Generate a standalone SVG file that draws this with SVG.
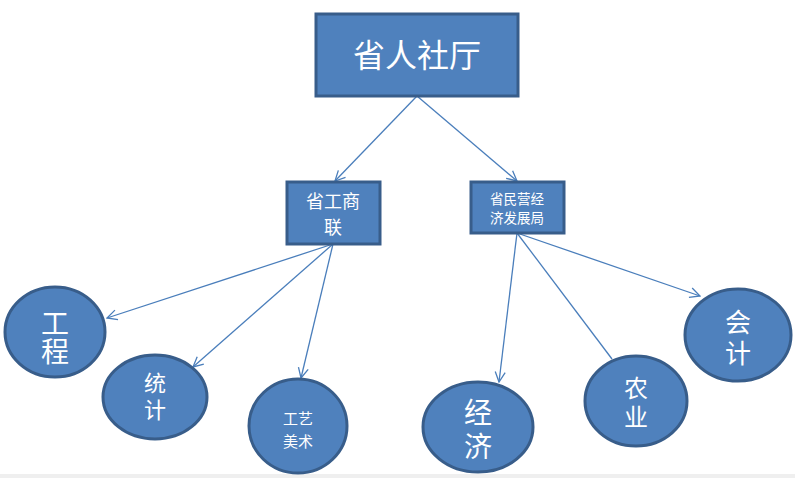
<svg xmlns="http://www.w3.org/2000/svg" width="795" height="478" viewBox="0 0 795 478">
<defs>
<style>
.box{fill:#4F81BD;stroke:#385D8A;stroke-width:3}
.ell{fill:#4F81BD;stroke:#385D8A;stroke-width:3}
.t{fill:#ffffff;font-family:"Noto Sans CJK SC","Noto Sans CJK TC",sans-serif;text-anchor:middle;dominant-baseline:central}
.v{writing-mode:vertical-rl;dominant-baseline:central}
.c{fill:none;stroke:#4A7EBB;stroke-width:1.3}
</style>
<marker id="arr" viewBox="0 0 12 12" refX="11" refY="6" markerWidth="12" markerHeight="12" markerUnits="userSpaceOnUse" orient="auto">
<path d="M1,1 L11,6 L1,11" fill="none" stroke="#4A7EBB" stroke-width="1.3"/>
</marker>
</defs>
<rect x="0" y="0" width="795" height="478" fill="#ffffff"/>
<rect x="0" y="474" width="795" height="4" fill="#efefef"/>
<g id="connectors">
<line class="c" x1="417" y1="96" x2="335" y2="181" marker-end="url(#arr)"/>
<line class="c" x1="417" y1="96" x2="517" y2="181" marker-end="url(#arr)"/>
<line class="c" x1="333" y1="244" x2="107" y2="318" marker-end="url(#arr)"/>
<line class="c" x1="333" y1="244" x2="193" y2="367" marker-end="url(#arr)"/>
<line class="c" x1="333" y1="244" x2="301" y2="378" marker-end="url(#arr)"/>
<line class="c" x1="517" y1="233" x2="499" y2="382" marker-end="url(#arr)"/>
<line class="c" x1="517" y1="233" x2="612" y2="359"/>
<line class="c" x1="517" y1="233" x2="700" y2="296" marker-end="url(#arr)"/>
</g>
<g id="n-top">
<rect class="box" x="316" y="14" width="202" height="82"/>
<text class="t" x="417" y="53" font-size="32">省人社厅</text>
</g>
<g id="n-gsl">
<rect class="box" x="287" y="182" width="93" height="62"/>
<text class="t" x="333" y="200" font-size="18">省工商</text>
<text class="t" x="333" y="226" font-size="18">联</text>
</g>
<g id="n-myj">
<rect class="box" x="471" y="182" width="93" height="51"/>
<text class="t" x="517" y="198" font-size="13.5">省民营经</text>
<text class="t" x="517" y="217" font-size="13.5">济发展局</text>
</g>
<g id="n-gc">
<ellipse class="ell" cx="55" cy="332" rx="50" ry="45"/>
<text class="t v" x="55" y="337" font-size="28">工程</text>
</g>
<g id="n-tj">
<ellipse class="ell" cx="155" cy="397" rx="52" ry="42"/>
<text class="t v" x="155" y="399" font-size="22" letter-spacing="5">统计</text>
</g>
<g id="n-gy">
<ellipse class="ell" cx="298" cy="426" rx="49" ry="47"/>
<text class="t" x="298" y="417" font-size="15">工艺</text>
<text class="t" x="298" y="440" font-size="15">美术</text>
</g>
<g id="n-jj">
<ellipse class="ell" cx="478" cy="427" rx="55" ry="45"/>
<text class="t v" x="478" y="432" font-size="28" letter-spacing="6">经济</text>
</g>
<g id="n-ny">
<ellipse class="ell" cx="636" cy="401" rx="51" ry="45"/>
<text class="t v" x="636" y="405" font-size="24" letter-spacing="5">农业</text>
</g>
<g id="n-kj">
<ellipse class="ell" cx="738" cy="335" rx="53" ry="46"/>
<text class="t v" x="738" y="340" font-size="26" letter-spacing="5">会计</text>
</g>
</svg>
